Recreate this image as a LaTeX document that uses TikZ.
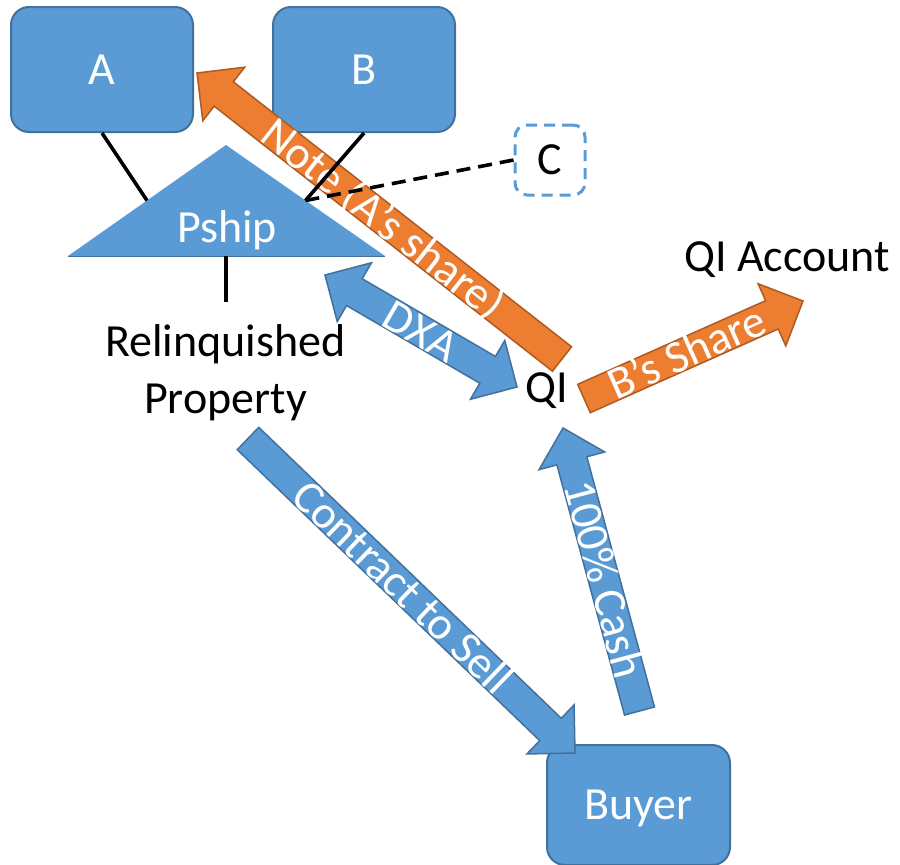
\documentclass[tikz,border=0pt]{standalone}
\usepackage{fontspec}
\setmainfont{Carlito}
\usetikzlibrary{calc}

\definecolor{boxblue}{HTML}{5B9BD5}
\definecolor{boxedge}{HTML}{41719C}
\definecolor{flowor}{HTML}{ED7D31}
\definecolor{flowedge}{HTML}{AE5A21}

% block arrow: #1 style, #2 tail, #3 tip
\newcommand{\blockarrow}[3]{%
  \coordinate (hb) at ($(#3)!34pt!(#2)$);
  \filldraw[#1] ($(#2)!15.5pt!90:(#3)$) -- ($(hb)!15.5pt!90:(#3)$)
    -- ($(hb)!34pt!90:(#3)$) -- (#3) -- ($(hb)!34pt!-90:(#3)$)
    -- ($(hb)!15.5pt!-90:(#3)$) -- ($(#2)!15.5pt!-90:(#3)$) -- cycle;
}
% double-headed block arrow: #1 style, #2 and #3 tips
\newcommand{\dblockarrow}[3]{%
  \coordinate (ha) at ($(#2)!34pt!(#3)$);
  \coordinate (hb) at ($(#3)!34pt!(#2)$);
  \filldraw[#1] (#2) -- ($(ha)!34pt!90:(#3)$) -- ($(ha)!15.5pt!90:(#3)$)
    -- ($(hb)!15.5pt!-90:(#2)$) -- ($(hb)!34pt!-90:(#2)$) -- (#3)
    -- ($(hb)!34pt!90:(#2)$) -- ($(hb)!15.5pt!90:(#2)$)
    -- ($(ha)!15.5pt!-90:(#3)$) -- ($(ha)!34pt!-90:(#3)$) -- cycle;
}

\tikzset{
  bigfont/.style={font=\fontsize{46}{56.5}\selectfont},
  capbox/.style={inner sep=0pt, text height=29.6pt, text depth=0pt},
  bluebox/.style={draw=boxedge, fill=boxblue, line width=2pt, rounded corners=18pt,
    text=white, bigfont, capbox},
  dashbox/.style={draw=boxblue, fill=white, line width=3pt, rounded corners=12pt,
    dash pattern=on 11pt off 7pt, bigfont, capbox},
  plain/.style={bigfont, inner sep=0pt, anchor=base},
  link/.style={line width=3.6pt, black},
  bluearrow/.style={fill=boxblue, draw=boxedge, line width=1.5pt, line join=miter},
  orarrow/.style={fill=flowor, draw=flowedge, line width=1.5pt, line join=miter},
  arrowlbl/.style={bigfont, text=white, capbox},
}

\begin{document}
\begin{tikzpicture}[x=1pt, y=-1pt]
\fill[white] (0,0) rectangle (900,865);
\useasboundingbox (0,0) rectangle (900,865);

% partners and partnership
\node[bluebox, minimum width=182pt, minimum height=125pt] (A) at (102,69.5) {A};
\node[bluebox, minimum width=182pt, minimum height=125pt] (B) at (364,69.5) {B};

\coordinate (tt) at (226,145);
\coordinate (tl) at (68,256);
\coordinate (tr) at (385,256);
\coordinate (pl) at ($(tl)!0.5!(tt)$);
\coordinate (pr) at ($(tr)!0.5!(tt)$);
\coordinate (pb) at (226,256);
\fill[boxblue] (tt) -- (tr) -- (tl) -- cycle;
\draw[boxedge, line width=1pt] (tl) -- (tr);
\node[arrowlbl] (pship) at (227,228) {Pship};

\node[dashbox, minimum width=70pt, minimum height=70pt] (C) at (550,160) {C};

% text labels
\node[plain] (rp1) at (225.5,356.5) {Relinquished};
\node[plain] (rp2) at (225.5,413) {Property};
\node[plain] (qi) at (547,402) {QI};
\node[plain] (qiacc) at (787,271) {QI Account};

\node[bluebox, minimum width=183pt, minimum height=120pt] (buyer) at (638.5,805) {Buyer};

% ownership lines
\draw[link] (A.south) -- (pl);
\draw[link] (pb) -- (226,302);

% flows
\coordinate (dx1) at (325,275);
\coordinate (dx2) at (517,387);
\dblockarrow{bluearrow}{dx1}{dx2}
\path (dx1) -- (dx2) node[midway, sloped, arrowlbl] {DXA};

\coordinate (cs1) at (248,438.5);
\coordinate (cs2) at (575,753);
\blockarrow{bluearrow}{cs1}{cs2}
\path (cs1) -- (cs2) node[pos=0.473, sloped, arrowlbl] {Contract to Sell};

\coordinate (ca1) at (639.5,711);
\coordinate (ca2) at (563,428);
\blockarrow{bluearrow}{ca1}{ca2}
\path (ca1) -- (ca2) node[pos=0.466, sloped, arrowlbl] {100\% Cash};

\coordinate (nt1) at (562,359);
\coordinate (nt2) at (197,73);
\blockarrow{orarrow}{nt1}{nt2}
\path (nt1) -- (nt2) node[pos=0.49, sloped, arrowlbl] {Note (A’s share)};

\coordinate (bs1) at (584,398.5);
\coordinate (bs2) at (803,301);
\blockarrow{orarrow}{bs1}{bs2}
\path (bs1) -- (bs2) node[pos=0.47, sloped, arrowlbl] {B’s Share};

% lines drawn over the note arrow
\draw[link] (B.south) -- (pr);
\draw[link, dash pattern=on 14pt off 8pt] (C.west) -- (pr);
\end{tikzpicture}
\end{document}
